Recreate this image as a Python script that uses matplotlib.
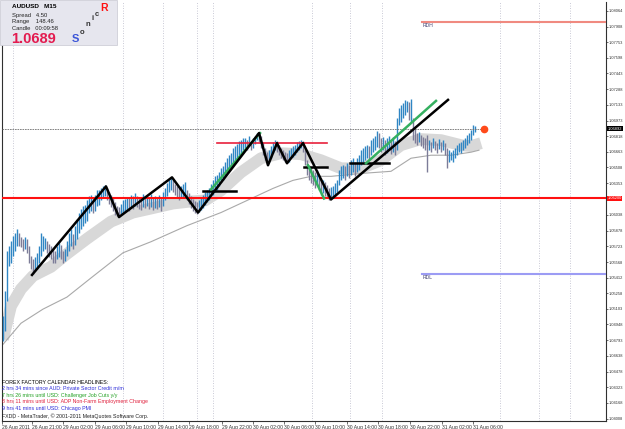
import numpy as np
import matplotlib
matplotlib.use("Agg")
import matplotlib.pyplot as plt

W, H = 625, 429

# price bars, pips above 1.0400 (M15, one entry per bar)
base = 1.0400
bar_high = [103,128,168,173,178,183,186,190,186,182,
            180,182,180,173,163,160,162,166,173,186,
            183,181,178,175,173,170,168,173,176,174,
            168,170,178,186,190,185,193,200,206,210,
            213,214,218,222,223,220,223,228,228,230,
            232,233,230,226,223,220,216,213,212,215,
            218,219,221,220,223,222,225,222,221,220,
            224,222,223,221,224,220,222,221,223,221,
            226,230,235,238,241,238,234,232,230,232,
            234,236,228,225,222,219,217,216,218,220,
            223,226,228,230,234,238,242,243,246,250,
            252,256,260,263,265,270,272,274,277,278,
            280,280,278,282,276,280,282,285,286,282,
            276,270,266,268,272,276,278,277,273,270,
            268,266,265,268,270,272,273,276,277,278,
            277,268,258,253,250,248,246,248,243,240,
            238,236,233,230,231,232,235,238,248,252,
            253,252,255,253,258,260,256,260,263,268,
            270,272,273,272,278,280,282,287,285,280,
            281,278,280,282,278,281,277,300,310,313,
            315,318,317,316,319,300,290,285,286,283,
            281,280,283,278,276,280,277,275,279,276,
            278,275,270,268,266,268,270,273,275,276,
            278,280,283,285,288,293,292]
bar_low = [78,88,118,153,156,163,168,173,173,172,
           168,170,166,156,150,145,148,150,156,163,
           168,170,166,162,160,156,156,160,162,160,
           156,158,163,168,173,170,174,180,186,190,
           193,196,198,206,208,206,208,213,214,218,
           220,222,218,215,212,208,204,203,202,205,
           206,208,210,208,211,210,213,212,210,209,
           212,211,213,210,212,209,211,210,212,208,
           213,218,222,226,228,226,223,220,218,220,
           221,222,218,215,211,208,206,205,207,209,
           211,214,216,218,222,223,226,228,232,236,
           238,242,246,248,250,255,258,260,263,263,
           268,270,268,272,268,270,274,278,276,270,
           263,258,254,256,260,265,268,266,263,260,
           258,256,255,256,260,261,263,266,268,270,
           266,253,243,238,235,233,230,233,228,223,
           225,222,220,218,219,220,222,226,233,238,
           240,238,242,240,243,246,242,246,248,253,
           256,258,260,258,263,266,268,271,270,266,
           268,263,265,268,264,266,263,268,293,296,
           300,303,306,298,295,278,275,273,276,272,
           270,268,246,268,266,270,268,265,269,266,
           268,263,250,256,258,256,260,263,266,265,
           268,270,273,275,278,283,286]

# thick gray moving average
band_bar = [0,4,9,15,24,32,42,54,65,74,85,94,101,109,119,129,139,149,159,169,179,189,199,209,219,229,234,239]
band_pips = [80,113,130,143,152,165,180,197,206,210,215,217,218,228,246,260,265,264,258,250,250,258,273,279,278,273,272,275]
# thin gray moving average
ma_bar = [0,9,20,32,44,60,74,92,109,122,135,145,154,164,180,194,204,214,224,234,238]
ma_pips = [75,96,110,122,141,166,177,193,206,218,230,238,242,242,245,247,260,263,263,266,268]

# zigzag
zz_bar = [14.5,51.5,58,84.5,97.5,128,132.5,137,142,150,164,222.5]
zz_pips = [144,232,201.5,241,206,285,253,275,255,275,219,318]

# green trend segments
green_bar = [[104,128.5],[152.5,160.5],[181.5,216.5]]
green_pips = [[229,285],[253,220],[255,317]]

# short horizontal levels
black_lvl = [1.06277,1.06516,1.06556]
black_from = [100,150.5,173.5]
black_to = [116.5,162,193]
red_lvl, red_from, red_to = 1.06754, 107, 162

support = 1.06200
last_price = 1.06892
rdh, rdl = 1.07959, 1.05449

ytick_vals = [1.08064,1.07908,1.07753,1.07598,1.07443,1.07288,1.07133,1.06973,1.06818,1.06663,
              1.06508,1.06353,1.06038,1.05878,1.05723,1.05568,1.05412,1.05258,1.05103,1.04948,
              1.04793,1.04638,1.04478,1.04323,1.04168,1.04008]
xtick_bars = [-0.5,14.5,30,46,61.5,77.5,93,109.5,125,140.5,156,172,187.5,203.5,219.5,235]
xtick_labels = ["26 Aug 2011","26 Aug 21:00","29 Aug 02:00","29 Aug 06:00","29 Aug 10:00",
                "29 Aug 14:00","29 Aug 18:00","29 Aug 22:00","30 Aug 02:00","30 Aug 06:00",
                "30 Aug 10:00","30 Aug 14:00","30 Aug 18:00","30 Aug 22:00","31 Aug 02:00",
                "31 Aug 06:00"]
grid_bars = [5,60,80,97,105,154.5,173.5,189.5,248.5,268,283.5]

headlines = ["FOREX FACTORY CALENDAR HEADLINES:",
             "2 hrs 34 mins since AUD: Private Sector Credit m/m",
             "7 hrs 26 mins until USD: Challenger Job Cuts y/y",
             "8 hrs 11 mins until USD: ADP Non-Farm Employment Change",
             "9 hrs 41 mins until USD: Chicago PMI"]
headline_colors = ["#000000","#2b2bd9","#22a022","#e0203c","#2b2bd9"]

hi = base + np.array(bar_high)/10000
lo = base + np.array(bar_low)/10000
mid = (hi+lo)/2
up = np.r_[True, mid[1:] >= mid[:-1]]
idx = np.arange(len(hi))

plt.rcParams['font.family'] = ['Liberation Sans', 'DejaVu Sans']
narrow = ['Liberation Sans Narrow', 'Liberation Sans']
fig = plt.figure(figsize=(W/100, H/100), dpi=100)
fig.patch.set_facecolor("white")
ax = fig.add_axes([2/W, 1-421/H, 604/W, 419/H])
ax.set_xlim(-0.5, 301.5)
ax.set_ylim(1.03988, 1.08153)

for g in grid_bars:
    ax.axvline(g, color="#b8b8c8", lw=0.6, ls=(0,(1,2)), zorder=0)

ax.plot(band_bar, base+np.array(band_pips)/10000, color="#d8d8d8", lw=8.5, solid_capstyle="butt", zorder=1)
ax.plot(ma_bar, base+np.array(ma_pips)/10000, color="#a9a9a9", lw=0.8, zorder=2)

ax.vlines(idx[up], lo[up], hi[up], color="#2f86c4", lw=1.0, zorder=3)
ax.vlines(idx[~up], lo[~up], hi[~up], color="#7c7c98", lw=1.0, zorder=3)

ax.axhline(support, color="#ff1010", lw=1.5, zorder=4)
ax.plot([-0.5, 240.5], [last_price, last_price], color="#707070", lw=0.6, ls=(0,(2,1)), zorder=4)
ax.plot([red_from, red_to], [red_lvl, red_lvl], color="#e8203c", lw=1.2, zorder=5)
for lv, a, b in zip(black_lvl, black_from, black_to):
    ax.plot([a, b], [lv, lv], color="black", lw=1.8, zorder=6)
for bx, bp in zip(green_bar, green_pips):
    ax.plot(bx, base+np.array(bp)/10000, color="#35b060", lw=1.8, zorder=6)
ax.plot(zz_bar, base+np.array(zz_pips)/10000, color="black", lw=1.8, zorder=7)
ax.plot([240.5], [last_price], "o", color="#ff4a1a", ms=4.5, zorder=8)

ax.plot([209.5, 301.5], [rdh, rdh], color="#f08a80", lw=1.5, zorder=4)
ax.plot([209.5, 301.5], [rdl, rdl], color="#9c9cf4", lw=1.5, zorder=4)
ax.text(210, rdh-0.00012, "RDH", fontsize=3.6, color="#404070", va="top")
ax.text(210, rdl-0.00012, "RDL", fontsize=3.6, color="#404070", va="top")

ax.yaxis.tick_right()
ax.set_yticks(ytick_vals)
ax.set_yticklabels(["%.5f" % v for v in ytick_vals], family=narrow)
ax.set_xticks(xtick_bars)
ax.set_xticklabels(xtick_labels)
for lbl in ax.get_xticklabels():
    lbl.set_ha("left")
ax.tick_params(axis="y", labelsize=2.9, length=1.5, width=0.5, pad=0.6, colors="#333333")
ax.tick_params(axis="x", labelsize=3.6, length=2, width=0.5, pad=1, colors="#333333")
for s in ["left", "bottom", "right"]:
    ax.spines[s].set_linewidth(0.8)
    ax.spines[s].set_color("#303030")
ax.spines["top"].set_visible(False)

# price labels on the scale
ax.text(1.0025, support, "%.5f" % support, transform=ax.get_yaxis_transform(), fontsize=2.9, family=narrow,
        color="white", va="center", ha="left", bbox=dict(boxstyle="square,pad=0.15", fc="#ff1010", ec="none"))
ax.text(1.0025, last_price, "%.5f" % last_price, transform=ax.get_yaxis_transform(), fontsize=2.9, family=narrow,
        color="white", va="center", ha="left", bbox=dict(boxstyle="square,pad=0.15", fc="black", ec="none"))

# info box
box = plt.Rectangle((0, 1-45/H), 117/W, 45/H, transform=fig.transFigure, fc="#e6e6ee", ec="#cfcfd8", lw=0.6, zorder=10)
fig.patches.append(box)
fig.text(12/W, 1-7/H, "AUDUSD   M15", fontsize=4.6, fontweight="bold", va="center", zorder=11)
fig.text(12/W, 1-15/H, "Spread   4.50", fontsize=4.2, color="#222222", va="center", zorder=11)
fig.text(12/W, 1-22/H, "Range    148.46", fontsize=4.2, color="#222222", va="center", zorder=11)
fig.text(12/W, 1-29/H, "Candle   00:09:58", fontsize=4.2, color="#222222", va="center", zorder=11)
fig.text(11/W, 1-39/H, "1.0689", fontsize=10.5, fontweight="bold", color="#e31b4f", va="center", zorder=11)
fig.text(72/W, 1-39/H, "S", fontsize=8, fontweight="bold", color="#3b55d8", va="center", zorder=11)
for ch, cx, cy in zip("onic", [80, 86, 91, 95], [32, 25, 19, 14]):
    fig.text(cx/W, 1-cy/H, ch, fontsize=5.5, fontweight="bold", color="#333333", va="center", zorder=11)
fig.text(100/W, 1-8/H, "R", fontsize=7.5, fontweight="bold", color="#ff1010", va="center", zorder=11)

for k, (t, c) in enumerate(zip(headlines, headline_colors)):
    fig.text(2/W, 1-(382+6.6*k)/H, t, fontsize=3.8, color=c, va="center")
fig.text(2/W, 1-416/H, "FXDD - MetaTrader, \u00a9 2001-2011 MetaQuotes Software Corp.", fontsize=3.8, color="#202020", va="center")

fig.savefig("out.png", dpi=100)
